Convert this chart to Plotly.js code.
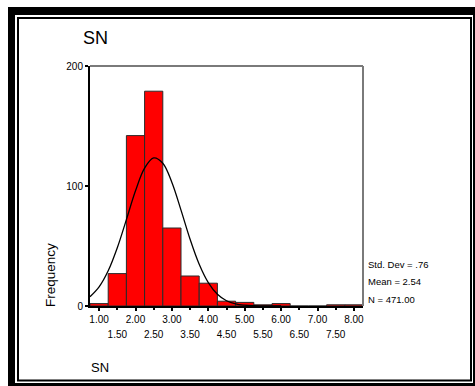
<!DOCTYPE html>
<html>
<head>
<meta charset="utf-8">
<script src="https://cdn.plot.ly/plotly-3.0.1.min.js"></script>
<style>
html,body{margin:0;padding:0;background:#fff;}
#chart{width:475px;height:386px;}
</style>
</head>
<body>
<div id="chart"></div>
<script>
// Histogram bins (centres) and frequencies
var binCenters = [1.00, 1.50, 2.00, 2.50, 3.00, 3.50, 4.00, 4.50, 5.00, 5.50, 6.00, 6.50, 7.00, 7.50, 8.00];
var frequencies = [2, 27, 142, 179, 65, 25, 19, 4, 3, 1, 2, 0, 0, 1, 1];

// Normal curve
var curveX = [0.75, 1.00, 1.25, 1.50, 1.75, 2.00, 2.25, 2.50, 2.75, 3.00, 3.25, 3.50, 3.75, 4.00, 4.25, 4.50, 4.75, 5.00, 5.25, 5.50, 6.00];
var curveY = [7.7, 15.9, 29.3, 48.5, 72.0, 96.0, 114.9, 123.4, 119.0, 102.9, 79.9, 55.6, 34.8, 19.5, 9.8, 4.4, 1.8, 0.7, 0.2, 0.1, 0];

// Tick labels
var majorTicks = [1, 2, 3, 4, 5, 6, 7, 8];
var majorLabels = ["1.00", "2.00", "3.00", "4.00", "5.00", "6.00", "7.00", "8.00"];
var minorTicks = [1.5, 2.5, 3.5, 4.5, 5.5, 6.5, 7.5];
var minorLabels = ["1.50", "2.50", "3.50", "4.50", "5.50", "6.50", "7.50"];
var yTicks = [0, 100, 200];
var yLabels = ["0", "100", "200"];

var statsLines = ["Std. Dev = .76", "Mean = 2.54", "N = 471.00"];

var FONT = "Arial, 'Liberation Sans', sans-serif";

// geometry helpers (pixel -> paper)
var L = 90, T = 66, W = 273, H = 240;
function px(x){ return (x - L) / W; }
function py(y){ return (T + H - y) / H; }

var traces = [
  {
    type: "bar",
    x: binCenters,
    y: frequencies,
    width: 0.5,
    marker: {color: "#FF0000", line: {color: "#2a2a2a", width: 1}},
    hoverinfo: "x+y",
    xaxis: "x",
    yaxis: "y"
  },
  {
    type: "scatter",
    mode: "lines",
    x: curveX,
    y: curveY,
    line: {color: "#000", width: 1.3, shape: "spline"},
    hoverinfo: "skip",
    xaxis: "x2",
    yaxis: "y"
  }
];

var annotations = [
  {text: "SN", xref: "paper", yref: "paper", x: px(81), y: py(37.5), xanchor: "left", yanchor: "middle",
   showarrow: false, font: {family: FONT, size: 18, color: "#000"}},
  {text: "SN", xref: "paper", yref: "paper", x: px(89), y: py(367), xanchor: "left", yanchor: "middle",
   showarrow: false, font: {family: FONT, size: 13, color: "#000"}},
  {text: "Frequency", xref: "paper", yref: "paper", x: px(50), y: py(275), xanchor: "center", yanchor: "middle",
   textangle: -90, showarrow: false, font: {family: FONT, size: 13.5, color: "#000"}}
];
var statY = [264, 281.5, 299];
for (var i = 0; i < statsLines.length; i++) {
  annotations.push({text: statsLines[i], xref: "paper", yref: "paper", x: px(366), y: py(statY[i]),
    xanchor: "left", yanchor: "middle", showarrow: false, font: {family: FONT, size: 9.5, color: "#000"}});
}

var shapes = [
  // outer thick black frame
  {type: "rect", xref: "paper", yref: "paper", x0: px(8), x1: px(490), y0: py(7), y1: py(400),
   fillcolor: "#000", line: {width: 0}, layer: "below"},
  {type: "rect", xref: "paper", yref: "paper", x0: px(15), x1: px(473), y0: py(15), y1: py(383),
   fillcolor: "#fff", line: {width: 0}, layer: "below"},
  // inner thin frame
  {type: "rect", xref: "paper", yref: "paper", x0: px(18), x1: px(471), y0: py(18), y1: py(380.5),
   fillcolor: "rgba(0,0,0,0)", line: {color: "#000", width: 2}, layer: "below"},
  // top and right borders of plot area (gray)
  {type: "line", xref: "paper", yref: "paper", x0: 0, x1: 1, y0: 1, y1: 1,
   line: {color: "#7a7a7a", width: 2}},
  {type: "line", xref: "paper", yref: "paper", x0: 1, x1: 1, y0: 0, y1: 1,
   line: {color: "#7a7a7a", width: 2}}
];

var layout = {
  width: 475,
  height: 386,
  margin: {l: L, r: 475 - L - W, t: T, b: 386 - T - H, pad: 0},
  paper_bgcolor: "#fff",
  plot_bgcolor: "#fff",
  showlegend: false,
  bargap: 0,
  font: {family: FONT, size: 10, color: "#000"},
  xaxis: {
    range: [0.75, 8.25],
    tickmode: "array",
    tickvals: majorTicks,
    ticktext: majorLabels,
    ticks: "outside",
    ticklen: 3,
    tickwidth: 2,
    tickcolor: "#000",
    showline: true,
    linecolor: "#000",
    linewidth: 2,
    showgrid: false,
    zeroline: false,
    tickfont: {family: FONT, size: 10, color: "#000"},
    fixedrange: true
  },
  xaxis2: {
    overlaying: "x",
    side: "bottom",
    range: [0.75, 8.25],
    tickmode: "array",
    tickvals: minorTicks,
    ticktext: minorLabels,
    ticks: "outside",
    ticklen: 3,
    tickwidth: 2,
    tickcolor: "#000",
    ticklabelstandoff: 16,
    showline: false,
    showgrid: false,
    zeroline: false,
    tickfont: {family: FONT, size: 10, color: "#000"},
    fixedrange: true
  },
  yaxis: {
    range: [0, 200],
    tickmode: "array",
    tickvals: yTicks,
    ticktext: yLabels,
    ticks: "outside",
    ticklen: 3,
    tickwidth: 2,
    tickcolor: "#000",
    showline: true,
    linecolor: "#000",
    linewidth: 2,
    showgrid: false,
    zeroline: false,
    tickfont: {family: FONT, size: 10, color: "#000"},
    fixedrange: true
  },
  annotations: annotations,
  shapes: shapes
};

Plotly.newPlot("chart", traces, layout, {displayModeBar: false, staticPlot: true});
</script>
</body>
</html>
